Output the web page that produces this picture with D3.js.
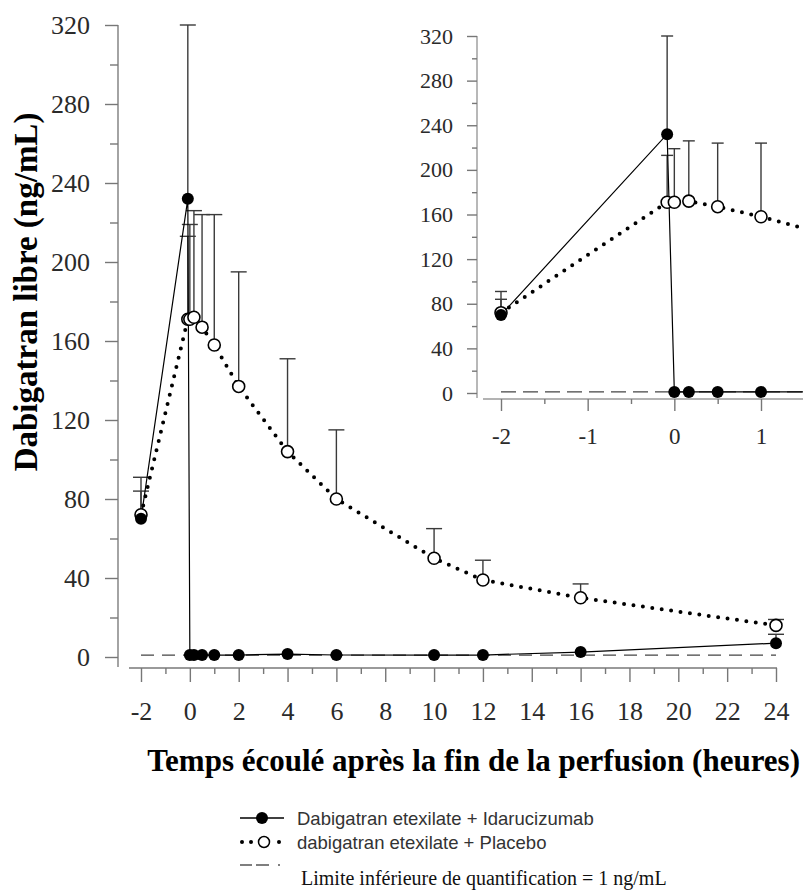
<!DOCTYPE html>
<html>
<head>
<meta charset="utf-8">
<script src="https://cdn.jsdelivr.net/npm/d3@7"></script>
<style>
  html, body { margin: 0; padding: 0; background: #fff; }
  svg { display: block; }
</style>
</head>
<body>
<div id="chart"></div>
<script>
// ---- Data ----
const times = [-2, -0.083, 0, 0.167, 0.5, 1, 2, 4, 6, 10, 12, 16, 24];
const idaMean  = [70, 232, 1, 1, 1, 1, 1, 1.5, 1, 1, 1, 2.5, 7];
const idaUpper = [84, 320, null, null, null, null, null, null, null, null, null, null, 11.5];
const plaMean  = [72, 171, 171, 172, 167, 158, 137, 104, 80, 50, 39, 30, 16];
const plaUpper = [91, 213, 219, 226, 224, 224, 195, 151, 115, 65, 49, 37, 19];
const lloq = 1;
const lloqRange = [-2, 24];

const yMajor = [0, 40, 80, 120, 160, 200, 240, 280, 320];
const yMinor = [20, 60, 100, 140, 180, 220, 260, 300];
const xMajor = [-2, 0, 2, 4, 6, 8, 10, 12, 14, 16, 18, 20, 22, 24];
const xMinor = [-1, 1, 3, 5, 7, 9, 11, 13, 15, 17, 19, 21, 23];
const xInsetMajor = [-2, -1, 0, 1];
const xInsetMinor = [-1.5, -0.5, 0.5, 1.5];

const yTitle = "Dabigatran libre (ng/mL)";
const xTitle = "Temps écoulé après la fin de la perfusion (heures)";
const legendLabels = ["Dabigatran etexilate + Idarucizumab", "dabigatran etexilate + Placebo"];
const lloqLabel = "Limite inférieure de quantification = 1 ng/mL";

// ---- Setup ----
const W = 803, H = 891;
const SERIF = "'Liberation Serif','Times New Roman',serif";
const SANS = "'Liberation Sans',Arial,sans-serif";
const fmt = d => String(d);

const svg = d3.select("#chart").append("svg").attr("width", W).attr("height", H);

const ida = times.map((t, i) => ({t, v: idaMean[i], up: idaUpper[i]}));
const pla = times.map((t, i) => ({t, v: plaMean[i], up: plaUpper[i]}));

function drawPanel(g, x, y, opt) {
  g.append("line")
    .attr("x1", x(lloqRange[0])).attr("x2", x(lloqRange[1]))
    .attr("y1", y(lloq)).attr("y2", y(lloq))
    .attr("stroke", "#444").attr("stroke-width", 1.3)
    .attr("stroke-dasharray", opt.dash);

  const bars = [];
  ida.forEach(d => { if (d.up != null) bars.push(d); });
  pla.forEach(d => { if (d.up != null) bars.push(d); });
  const eb = g.append("g").attr("stroke", "#3a3a3a").attr("stroke-width", 1.4);
  bars.forEach(d => {
    eb.append("line").attr("x1", x(d.t)).attr("x2", x(d.t)).attr("y1", y(d.v)).attr("y2", y(d.up));
    eb.append("line").attr("x1", x(d.t) - opt.cap).attr("x2", x(d.t) + opt.cap).attr("y1", y(d.up)).attr("y2", y(d.up));
  });

  const line = d3.line().x(d => x(d.t)).y(d => y(d.v));
  g.append("path").datum(pla).attr("d", line)
    .attr("fill", "none").attr("stroke", "#000").attr("stroke-width", 4)
    .attr("stroke-linecap", "round").attr("stroke-dasharray", "0," + opt.dotGap);
  g.append("path").datum(ida).attr("d", line)
    .attr("fill", "none").attr("stroke", "#000").attr("stroke-width", 1.2);

  g.selectAll(".pla").data(pla).enter().append("circle")
    .attr("cx", d => x(d.t)).attr("cy", d => y(d.v)).attr("r", opt.r)
    .attr("fill", "#fff").attr("stroke", "#000").attr("stroke-width", 1.6);
  g.selectAll(".ida").data(ida).enter().append("circle")
    .attr("cx", d => x(d.t)).attr("cy", d => y(d.v)).attr("r", opt.r)
    .attr("fill", "#000");
}

function styleAxis(sel, size) {
  sel.select(".domain").remove();
  sel.selectAll(".tick line").attr("stroke", "#777").attr("stroke-width", 1.4);
  sel.selectAll(".tick text").attr("font-family", SERIF).attr("font-size", size).attr("fill", "#2a2a2a");
}

// ---- Main chart ----
const x = d3.scaleLinear().domain([-2, 24]).range([141, 776]);
const y = d3.scaleLinear().domain([0, 320]).range([657, 25]);

const main = svg.append("g");
main.append("line").attr("x1", 118).attr("x2", 118).attr("y1", y(320)).attr("y2", 667)
  .attr("stroke", "#9a9a9a").attr("stroke-width", 1.8);
main.append("line").attr("x1", 129).attr("x2", 777).attr("y1", 668).attr("y2", 668)
  .attr("stroke", "#9a9a9a").attr("stroke-width", 1.8);

main.append("g").attr("transform", "translate(118,0)")
  .call(d3.axisLeft(y).tickValues(yMajor).tickSize(13).tickPadding(15).tickFormat(fmt))
  .call(s => styleAxis(s, 26));
main.append("g").attr("transform", "translate(118,0)")
  .call(d3.axisLeft(y).tickValues(yMinor).tickSize(8).tickFormat(""))
  .call(s => styleAxis(s, 26));
main.append("g").attr("transform", "translate(0,668)")
  .call(d3.axisBottom(x).tickValues(xMajor).tickSize(14).tickPadding(20).tickFormat(fmt))
  .call(s => styleAxis(s, 26));
main.append("g").attr("transform", "translate(0,668)")
  .call(d3.axisBottom(x).tickValues(xMinor).tickSize(6).tickFormat(""))
  .call(s => styleAxis(s, 26));

drawPanel(main.append("g"), x, y, {dash: "13,8", cap: 8, r: 6, dotGap: 9.5});

// ---- Inset ----
const xi = d3.scaleLinear().domain([-2, 1]).range([501, 761]);
const yi = d3.scaleLinear().domain([0, 320]).range([393, 36]);

svg.append("clipPath").attr("id", "insetClip").append("rect")
  .attr("x", 478).attr("y", 0).attr("width", W - 478).attr("height", 400);

const inset = svg.append("g");
inset.append("rect").attr("x", 478).attr("y", 20).attr("width", W - 478).attr("height", 380).attr("fill", "#fff");
inset.append("line").attr("x1", 477).attr("x2", 477).attr("y1", yi(320)).attr("y2", 398)
  .attr("stroke", "#9a9a9a").attr("stroke-width", 1.4);
inset.append("line").attr("x1", 483).attr("x2", W).attr("y1", 399).attr("y2", 399)
  .attr("stroke", "#9a9a9a").attr("stroke-width", 1.4);

inset.append("g").attr("transform", "translate(477,0)")
  .call(d3.axisLeft(yi).tickValues(yMajor).tickSize(10).tickPadding(14).tickFormat(fmt))
  .call(s => styleAxis(s, 22));
inset.append("g").attr("transform", "translate(477,0)")
  .call(d3.axisLeft(yi).tickValues(yMinor).tickSize(5).tickFormat(""))
  .call(s => styleAxis(s, 22));
inset.append("g").attr("transform", "translate(0,399)")
  .call(d3.axisBottom(xi).tickValues(xInsetMajor).tickSize(12).tickPadding(17).tickFormat(fmt))
  .call(s => styleAxis(s, 23));
inset.append("g").attr("transform", "translate(0,399)")
  .call(d3.axisBottom(xi).tickValues(xInsetMinor).tickSize(5).tickFormat(""))
  .call(s => styleAxis(s, 23));

drawPanel(inset.append("g").attr("clip-path", "url(#insetClip)"), xi, yi, {dash: "15,7", cap: 6, r: 6, dotGap: 9.5});

// ---- Titles ----
svg.append("text")
  .attr("transform", "translate(37,292) rotate(-90)")
  .attr("text-anchor", "middle")
  .attr("font-family", SERIF).attr("font-weight", "bold").attr("font-size", 33)
  .attr("fill", "#000").text(yTitle);
svg.append("text")
  .attr("x", 800).attr("y", 771)
  .attr("text-anchor", "end")
  .attr("font-family", SERIF).attr("font-weight", "bold").attr("font-size", 31)
  .attr("fill", "#000").text(xTitle);

// ---- Legend ----
const lg = svg.append("g");
const r1 = 818, r2 = 842, r3 = 865;
lg.append("line").attr("x1", 240).attr("x2", 284).attr("y1", r1).attr("y2", r1).attr("stroke", "#000").attr("stroke-width", 1.3);
lg.append("circle").attr("cx", 262).attr("cy", r1).attr("r", 6).attr("fill", "#000");
lg.append("text").attr("x", 297).attr("y", r1 + 6.5).attr("font-family", SANS).attr("font-size", 18.5).attr("fill", "#333").text(legendLabels[0]);

[242, 251, 279].forEach(cx => lg.append("circle").attr("cx", cx).attr("cy", r2).attr("r", 2).attr("fill", "#000"));
lg.append("circle").attr("cx", 264).attr("cy", r2).attr("r", 5.5).attr("fill", "#fff").attr("stroke", "#000").attr("stroke-width", 1.5);
lg.append("text").attr("x", 297).attr("y", r2 + 6.5).attr("font-family", SANS).attr("font-size", 18.5).attr("fill", "#333").text(legendLabels[1]);

lg.append("line").attr("x1", 240).attr("x2", 282).attr("y1", r3).attr("y2", r3)
  .attr("stroke", "#555").attr("stroke-width", 1.3).attr("stroke-dasharray", "12,4,13,9,2,20");
lg.append("text").attr("x", 301).attr("y", 885).attr("font-family", SERIF).attr("font-size", 20).attr("fill", "#111").text(lloqLabel);
</script>
</body>
</html>
